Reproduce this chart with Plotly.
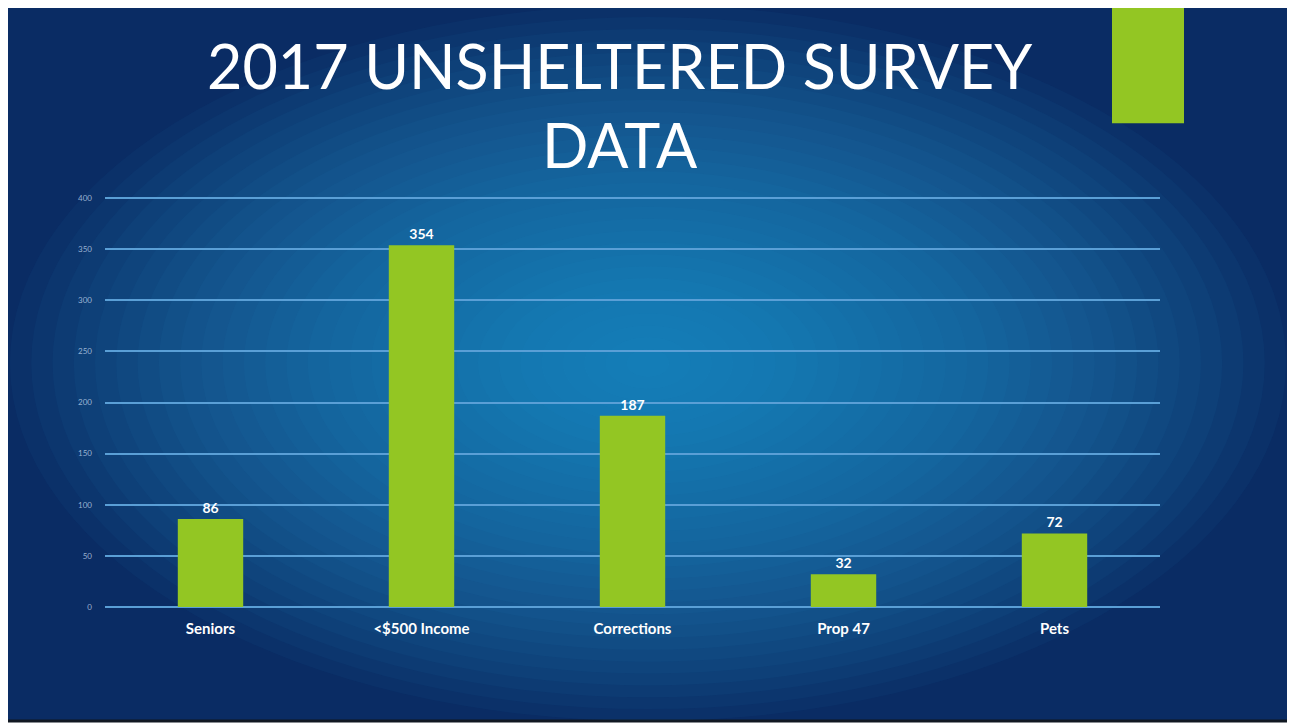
import plotly.graph_objects as go

# chart data
categories = ["Seniors", "<$500 Income", "Corrections", "Prop 47", "Pets"]
counts = [86, 354, 187, 32, 72]
y_ticks = [0, 50, 100, 150, 200, 250, 300, 350, 400]

OFF = 8  # page body margin shifts the figure
W, H = 1295 - OFF, 725 - OFF
Y_TOP = 405  # a little headroom so the 400 gridline is drawn
L, R, B = 105 - OFF, 1160 - OFF, 607 - OFF
T = B - 409 * Y_TOP / 400  # 400 lands on page y=198

BAR_GREEN = "#93c623"
GRID = "#5a9fd6"


def px_x(x):
    return (x - OFF - L) / (R - L)


def px_y(y):
    return (B - (y - OFF)) / (B - T)


fig = go.Figure()

fig.add_trace(go.Bar(
    x=categories,
    y=counts,
    width=0.31,
    marker=dict(color=BAR_GREEN, line=dict(width=0)),
    text=counts,
    textposition="outside",
    textfont=dict(color="white", size=14, family="Lato", weight="bold"),
    cliponaxis=False,
))

shapes = []
# slide background
shapes.append(dict(type="rect", xref="paper", yref="paper", layer="below",
                   x0=px_x(6), x1=px_x(1290), y0=px_y(721), y1=px_y(5),
                   fillcolor="#0a2c64", line=dict(color="#111822", width=3)))
# soft radial glow, built from stacked ellipses
n = 30
cx, cy = 648, 363
for i in range(n):
    f = 1 - i / n
    rx, ry = 638 * f + 30, 356 * f + 18
    shapes.append(dict(type="circle", xref="paper", yref="paper", layer="below",
                       x0=px_x(cx - rx + 30), x1=px_x(cx + rx - 30),
                       y0=px_y(cy + ry - 16), y1=px_y(cy - ry + 16),
                       fillcolor="#2196d6", opacity=0.05, line=dict(width=0)))
# green block top right
shapes.append(dict(type="rect", xref="paper", yref="paper",
                   x0=px_x(1112), x1=px_x(1184), y0=px_y(123), y1=px_y(6),
                   fillcolor=BAR_GREEN, line=dict(width=0)))

fig.update_layout(
    width=W, height=H,
    margin=dict(l=L, r=W - R, t=T, b=H - B, pad=0),
    paper_bgcolor="white",
    plot_bgcolor="rgba(0,0,0,0)",
    showlegend=False,
    shapes=shapes,
    bargap=0.69,
    annotations=[dict(
        text="2017 UNSHELTERED SURVEY<br>DATA",
        xref="paper", yref="paper",
        x=px_x(619), y=px_y(105),
        xanchor="center", yanchor="middle",
        showarrow=False,
        font=dict(family="Lato", size=61, color="white"),
    )],
)

fig.update_xaxes(
    showgrid=False, showline=False, zeroline=False, ticks="",
    tickfont=dict(color="white", size=15, family="Lato", weight="bold"),
    ticklabelstandoff=11,
)
fig.update_yaxes(
    range=[0, Y_TOP], tickvals=y_ticks,
    showgrid=True, gridcolor=GRID, gridwidth=2,
    zeroline=True, zerolinecolor=GRID, zerolinewidth=2,
    showline=False, ticks="",
    tickfont=dict(color="rgba(200,220,240,0.75)", size=8, family="Lato"),
    ticklabelstandoff=12,
)

fig.write_html("out.html")
